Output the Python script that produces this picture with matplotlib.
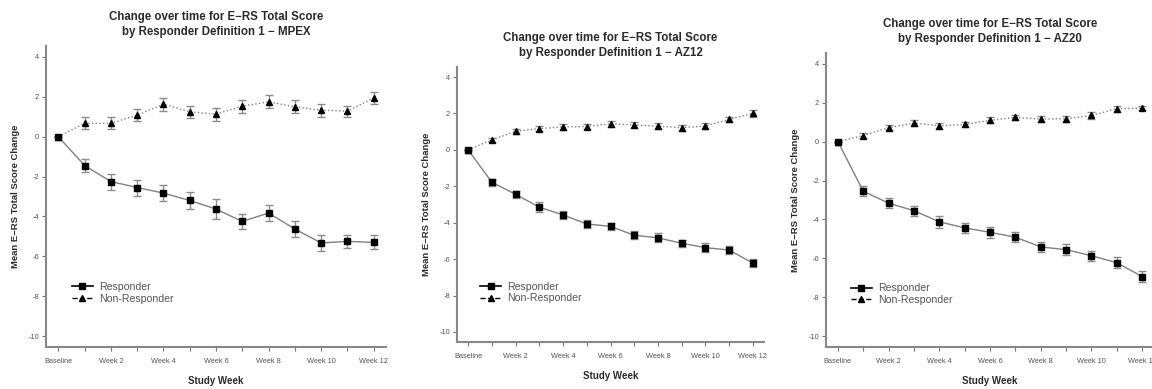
import numpy as np
import matplotlib
matplotlib.use('Agg')
import matplotlib.pyplot as plt
from matplotlib.lines import Line2D

plt.rcParams['font.family'] = ['Liberation Sans', 'DejaVu Sans']
plt.rcParams['axes.unicode_minus'] = False

weeks = np.arange(13)
week_labels = ['Baseline', '', 'Week 2', '', 'Week 4', '', 'Week 6', '',
               'Week 8', '', 'Week 10', '', 'Week 12']

# MPEX
mpex_resp = [0, -1.45, -2.25, -2.55, -2.83, -3.2, -3.63, -4.25, -3.83, -4.63, -5.33, -5.25, -5.3]
mpex_resp_err = [0, 0.31, 0.4, 0.4, 0.39, 0.43, 0.5, 0.39, 0.38, 0.42, 0.42, 0.33, 0.35]
mpex_non = [0, 0.67, 0.67, 1.08, 1.63, 1.25, 1.13, 1.53, 1.75, 1.5, 1.33, 1.28, 1.95]
mpex_non_err = [0, 0.3, 0.3, 0.29, 0.33, 0.3, 0.33, 0.33, 0.32, 0.32, 0.32, 0.28, 0.3]

# AZ12
az12_resp = [0, -1.78, -2.44, -3.15, -3.57, -4.07, -4.2, -4.69, -4.83, -5.13, -5.37, -5.5, -6.22]
az12_resp_err = [0, 0.18, 0.2, 0.27, 0.22, 0.22, 0.2, 0.22, 0.24, 0.2, 0.24, 0.22, 0.22]
az12_non = [0, 0.55, 1.02, 1.17, 1.26, 1.28, 1.43, 1.37, 1.3, 1.22, 1.31, 1.67, 2.0]
az12_non_err = [0, 0.1, 0.15, 0.15, 0.16, 0.15, 0.16, 0.16, 0.16, 0.16, 0.14, 0.16, 0.18]

# AZ20
az20_resp = [0, -2.55, -3.16, -3.55, -4.12, -4.43, -4.66, -4.91, -5.41, -5.55, -5.86, -6.22, -6.93]
az20_resp_err = [0, 0.25, 0.24, 0.25, 0.3, 0.25, 0.27, 0.25, 0.25, 0.27, 0.25, 0.27, 0.27]
az20_non = [0, 0.31, 0.72, 0.95, 0.81, 0.88, 1.09, 1.24, 1.16, 1.17, 1.34, 1.69, 1.72]
az20_non_err = [0, 0.12, 0.15, 0.16, 0.14, 0.15, 0.16, 0.15, 0.14, 0.15, 0.16, 0.15, 0.1]

panels = [
    ('MPEX', mpex_resp, mpex_resp_err, mpex_non, mpex_non_err),
    ('AZ12', az12_resp, az12_resp_err, az12_non, az12_non_err),
    ('AZ20', az20_resp, az20_resp_err, az20_non, az20_non_err),
]

W, H = 1152, 389
# left, top, right, bottom in pixels
boxes = [(46, 46, 386, 347), (457, 67, 764, 342), (826, 53, 1154, 347)]

fig = plt.figure(figsize=(W / 100, H / 100), dpi=100)
line_col = '#808080'
err_col = '#8c8c8c'
text_col = '#2a2a2a'

for (name, r, re, n, ne), (l, t, rr, b) in zip(panels, boxes):
    ax = fig.add_axes([l / W, 1 - b / H, (rr - l) / W, (b - t) / H])
    ax.errorbar(weeks, n, yerr=ne, color=line_col, ls=':', lw=1.0,
                ecolor=err_col, elinewidth=1.0, capsize=3, capthick=1.0,
                marker='^', ms=4, mfc='black', mec='black', zorder=3)
    ax.errorbar(weeks, r, yerr=re, color=line_col, ls='-', lw=1.0,
                ecolor=err_col, elinewidth=1.0, capsize=3, capthick=1.0,
                marker='s', ms=4, mfc='black', mec='black', zorder=3)
    ax.set_xlim(-0.47, 12.47)
    ax.set_ylim(-10.55, 4.55)
    ax.set_yticks(np.arange(-10, 5, 2))
    ax.set_xticks(weeks)
    ax.set_xticklabels(week_labels)
    ax.tick_params(axis='both', labelsize=5.3, length=3, width=0.8,
                   color='#777777', labelcolor='#555555', pad=2)
    ax.tick_params(axis='x', pad=5)
    for s in ['top', 'right']:
        ax.spines[s].set_visible(False)
    for s in ['left', 'bottom']:
        ax.spines[s].set_color('#888888')
        ax.spines[s].set_linewidth(1.5)
    ax.set_title('Change over time for E\u2212RS Total Score\nby Responder Definition 1 \u2212 ' + name,
                 fontsize=8.3, fontweight='bold', color=text_col, pad=8, linespacing=1.3)
    ax.set_ylabel('Mean E\u2212RS Total Score Change', fontsize=6.8, fontweight='bold',
                  color=text_col, labelpad=6)
    ax.set_xlabel('Study Week', fontsize=7, fontweight='bold', color=text_col, labelpad=8)
    handles = [Line2D([], [], color='black', ls='-', lw=1.2, marker='s', ms=4),
               Line2D([], [], color='black', ls='--', lw=1.0, marker='^', ms=4)]
    ax.legend(handles, ['Responder', 'Non-Responder'], loc='center left',
              bbox_to_anchor=(0.075, 0.18), frameon=False, fontsize=7.6,
              handlelength=2.0, handletextpad=0.6, borderpad=0, borderaxespad=0,
              labelspacing=0.15, labelcolor='#555555')

fig.savefig('out.png', dpi=100, facecolor='white')
